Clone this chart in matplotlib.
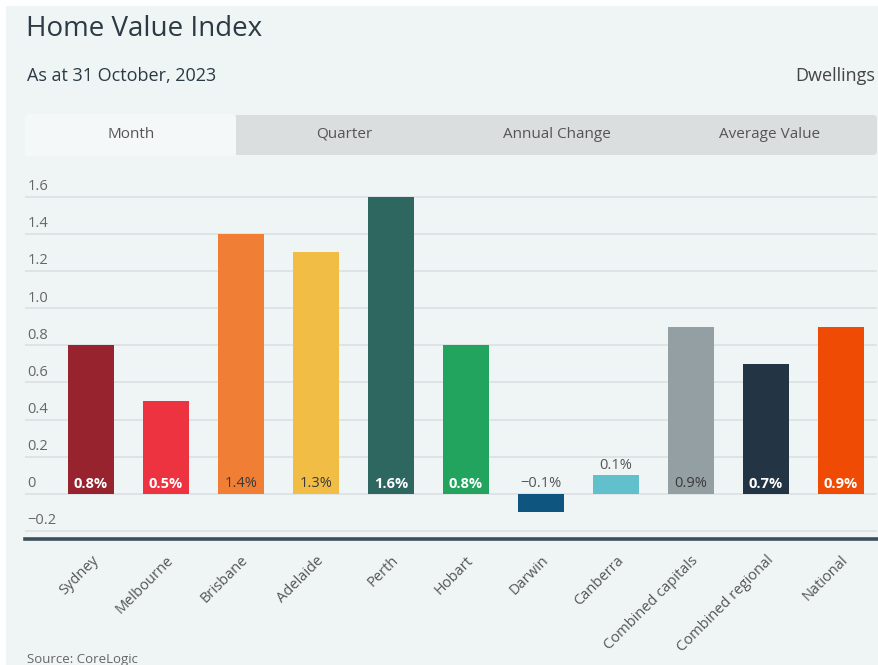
import matplotlib.pyplot as plt
from matplotlib.patches import Rectangle, FancyBboxPatch
from matplotlib.transforms import blended_transform_factory

plt.rcParams['font.family'] = ['Open Sans', 'DejaVu Sans']

# data (monthly change, %)
regions = ['Sydney', 'Melbourne', 'Brisbane', 'Adelaide', 'Perth', 'Hobart',
           'Darwin', 'Canberra', 'Combined capitals', 'Combined regional', 'National']
change = [0.8, 0.5, 1.4, 1.3, 1.6, 0.8, -0.1, 0.1, 0.9, 0.7, 0.9]
bar_colors = ['#96232e', '#ee3340', '#f07f35', '#f2bd45', '#2e6760', '#22a45f',
              '#0e5580', '#62bfcc', '#939fa3', '#233545', '#f04b05']
label_colors = ['white', 'white', '#3a3a3a', '#3a3a3a', 'white', 'white',
                '#555555', '#555555', '#3a3a3a', 'white', 'white']
y_ticks = [-0.2, 0, 0.2, 0.4, 0.6, 0.8, 1.0, 1.2, 1.4, 1.6]
tabs = ['Month', 'Quarter', 'Annual Change', 'Average Value']

W, H = 879, 665
fig = plt.figure(figsize=(W / 100, H / 100), dpi=100)
fig.patch.set_facecolor('white')

def fx(px):
    return px / W

def fy(py):
    return 1 - py / H

# light panel background
fig.patches.append(Rectangle((fx(6), 0), 1, fy(6), transform=fig.transFigure,
                             facecolor='#eff4f5', edgecolor='none', zorder=0))

fig.text(fx(26), fy(29), 'Home Value Index', fontsize=20, color='#2b3a44',
         va='center', ha='left')
fig.text(fx(27), fy(76), 'As at 31 October, 2023', fontsize=13, color='#2b3a44',
         va='center', ha='left')
fig.text(fx(875), fy(76), 'Dwellings', fontsize=13, color='#444444',
         va='center', ha='right')

# tab strip (drawn in pixel coords, origin bottom-left)
tab_top, tab_bot = H - 115, H - 155
fig.patches.append(FancyBboxPatch((25, tab_bot), 852, tab_top - tab_bot,
                                  boxstyle='round,pad=0,rounding_size=4',
                                  transform=None, facecolor='#dadedf',
                                  edgecolor='none', zorder=1))
fig.patches.append(FancyBboxPatch((25, tab_bot), 211, tab_top - tab_bot + 1,
                                  boxstyle='round,pad=0,rounding_size=4',
                                  transform=None, facecolor='#f5f8f9',
                                  edgecolor='none', zorder=2))
fig.patches.append(Rectangle((25, tab_bot - 1), 211, 6, transform=None,
                             facecolor='#f5f8f9', edgecolor='none', zorder=2))
tab_x = [131, 344, 557, 770]
for t, px in zip(tabs, tab_x):
    fig.text(fx(px), fy(134), t, fontsize=11, color='#555555',
             ha='center', va='center', zorder=3)

# plot area
y_lo, y_hi = -0.243, 1.7
ax = fig.add_axes([fx(25), fy(539), fx(877) - fx(25), fy(178) - fy(539)])
ax.set_zorder(5)
ax.set_facecolor('none')
x = list(range(len(regions)))
ax.bar(x, change, width=0.61, color=bar_colors, zorder=3)
ax.set_xlim(-0.88, 10.48)
ax.set_ylim(y_lo, y_hi)
ax.set_yticks(y_ticks)
ax.yaxis.grid(True, color='#dde2e4', linewidth=1.3, zorder=0)
ax.set_axisbelow(True)
ax.tick_params(axis='y', length=0, labelleft=False)
for s in ['top', 'right', 'left']:
    ax.spines[s].set_visible(False)
ax.spines['bottom'].set_color('#3d4f59')
ax.spines['bottom'].set_linewidth(2.6)

trans = blended_transform_factory(ax.transAxes, ax.transData)
for v in y_ticks:
    lab = '0' if v == 0 else f'{v:.1f}'.replace('-', '\u2212')
    ax.text(0.003, v + 0.054, lab, transform=trans, fontsize=10.5, color='#666666',
            ha='left', va='center')

for xi, v, lc in zip(x, change, label_colors):
    txt = f'{v:.1f}%'.replace('-', '\u2212')
    if v < 0:
        ax.text(xi, 0.054, txt, ha='center', va='center', fontsize=10.5, color=lc)
    elif v < 0.2:
        ax.text(xi, v + 0.054, txt, ha='center', va='center', fontsize=10.5, color=lc)
    else:
        weight = 'bold' if lc == 'white' else 'normal'
        ax.text(xi, 0.054, txt, ha='center', va='center', fontsize=10.5, color=lc,
                fontweight=weight, zorder=4)

ax.set_xticks(x)
ax.set_xticklabels(regions, rotation=45, ha='right', rotation_mode='anchor',
                   fontsize=10.5, color='#555555')
ax.tick_params(axis='x', length=0, pad=10)

fig.text(fx(27), fy(659), 'Source: CoreLogic', fontsize=9.5, color='#666666',
         ha='left', va='center')

fig.savefig('out.png', dpi=100)
